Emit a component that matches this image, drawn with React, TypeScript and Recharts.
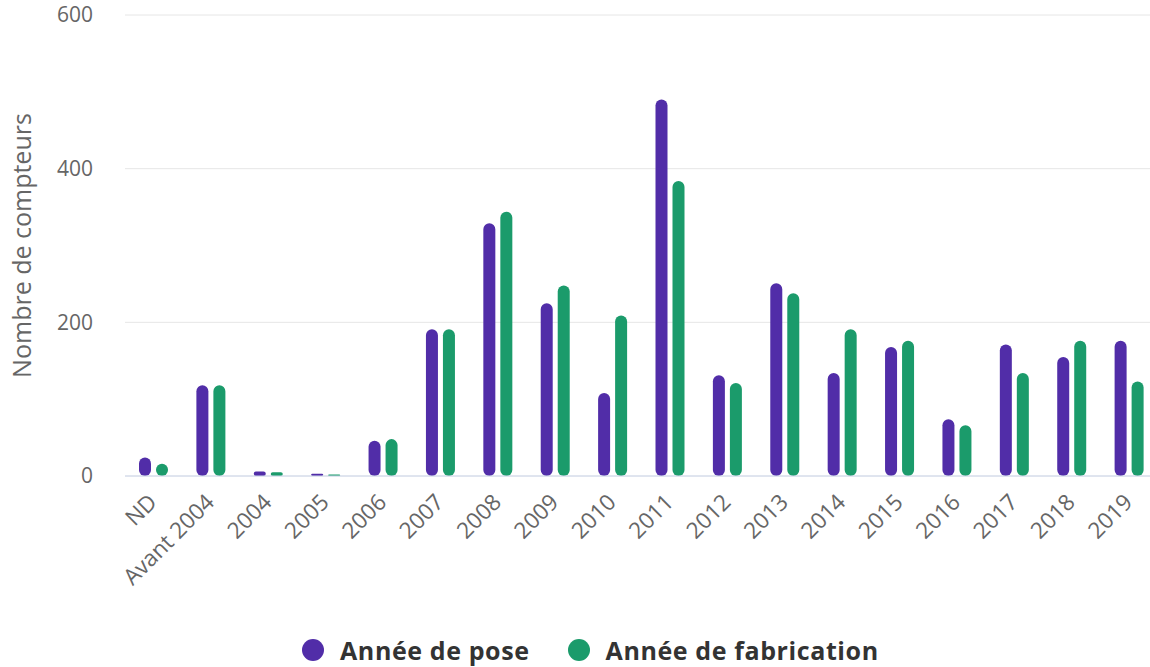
import React from 'react';
import { BarChart, Bar, XAxis, YAxis, CartesianGrid } from 'recharts';

// categories on the x axis
const categories = ['ND', 'Avant 2004', '2004', '2005', '2006', '2007', '2008', '2009', '2010', '2011', '2012', '2013', '2014', '2015', '2016', '2017', '2018', '2019'];

// number of meters per year
const anneePose = [24, 118, 6, 3, 46, 191, 329, 225, 108, 490, 131, 251, 134, 168, 74, 171, 155, 176];
const anneeFabrication = [16, 118, 5, 2, 48, 191, 344, 248, 209, 384, 121, 238, 191, 176, 66, 134, 176, 123];

const yTicks = [0, 200, 400, 600];

const seriesNames = ['Année de pose', 'Année de fabrication'];
const seriesColors = ['#512da8', '#1b9b6b'];

const FONT = '"Open Sans", sans-serif';

const data = categories.map((cat, i) => ({
  name: cat,
  pose: anneePose[i],
  fabrication: anneeFabrication[i],
}));

const XTick = ({ x, y, payload }: any) => {
  const tx = x - 1;
  const ty = y + 14;
  return (
    <text
      x={tx}
      y={ty}
      textAnchor="end"
      fill="#666666"
      fontSize={22.5}
      fontFamily={FONT}
      transform={`rotate(-45, ${tx}, ${ty})`}
      dy="0.35em"
    >
      {payload.value}
    </text>
  );
};

export default function App() {
  return (
    <div
      style={{
        position: 'absolute',
        left: 0,
        top: 0,
        width: 1150,
        height: 667,
        overflow: 'hidden',
        background: '#ffffff',
      }}
    >
      <BarChart
        width={1158}
        height={667}
        data={data}
        margin={{ top: 15, right: 0, bottom: 0, left: 0 }}
        barSize={12}
        barGap={5}
      >
        <CartesianGrid vertical={false} stroke="#e6e6e6" />
        <XAxis
          dataKey="name"
          height={191}
          interval={0}
          tickLine={false}
          axisLine={{ stroke: '#ccd6eb' }}
          tick={<XTick />}
        />
        <YAxis
          width={125}
          domain={[0, 600]}
          ticks={yTicks}
          tickLine={false}
          axisLine={false}
          tickMargin={26}
          tick={{ fill: '#666666', fontSize: 21, fontFamily: FONT }}
          label={{
            value: 'Nombre de compteurs',
            angle: -90,
            position: 'insideLeft',
            offset: 22,
            style: { fill: '#666666', fontSize: 25, fontFamily: FONT, textAnchor: 'middle' },
          }}
        />
        <Bar dataKey="pose" name={seriesNames[0]} fill={seriesColors[0]} radius={[6, 6, 6, 6]} isAnimationActive={false} />
        <Bar dataKey="fabrication" name={seriesNames[1]} fill={seriesColors[1]} radius={[6, 6, 6, 6]} isAnimationActive={false} />
      </BarChart>
      <div
        style={{
          position: 'absolute',
          left: 302,
          top: 636,
          height: 28,
          display: 'flex',
          alignItems: 'center',
          fontFamily: FONT,
          fontWeight: 'bold',
          fontSize: 25,
          lineHeight: '28px',
          letterSpacing: 0.6,
          color: '#333333',
        }}
      >
        {seriesNames.map((name, i) => (
          <div key={name} style={{ display: 'flex', alignItems: 'center', marginRight: 38 }}>
            <span
              style={{
                display: 'inline-block',
                width: 22,
                height: 22,
                borderRadius: 11,
                background: seriesColors[i],
                marginRight: 16,
              }}
            />
            <span>{name}</span>
          </div>
        ))}
      </div>
    </div>
  );
}
